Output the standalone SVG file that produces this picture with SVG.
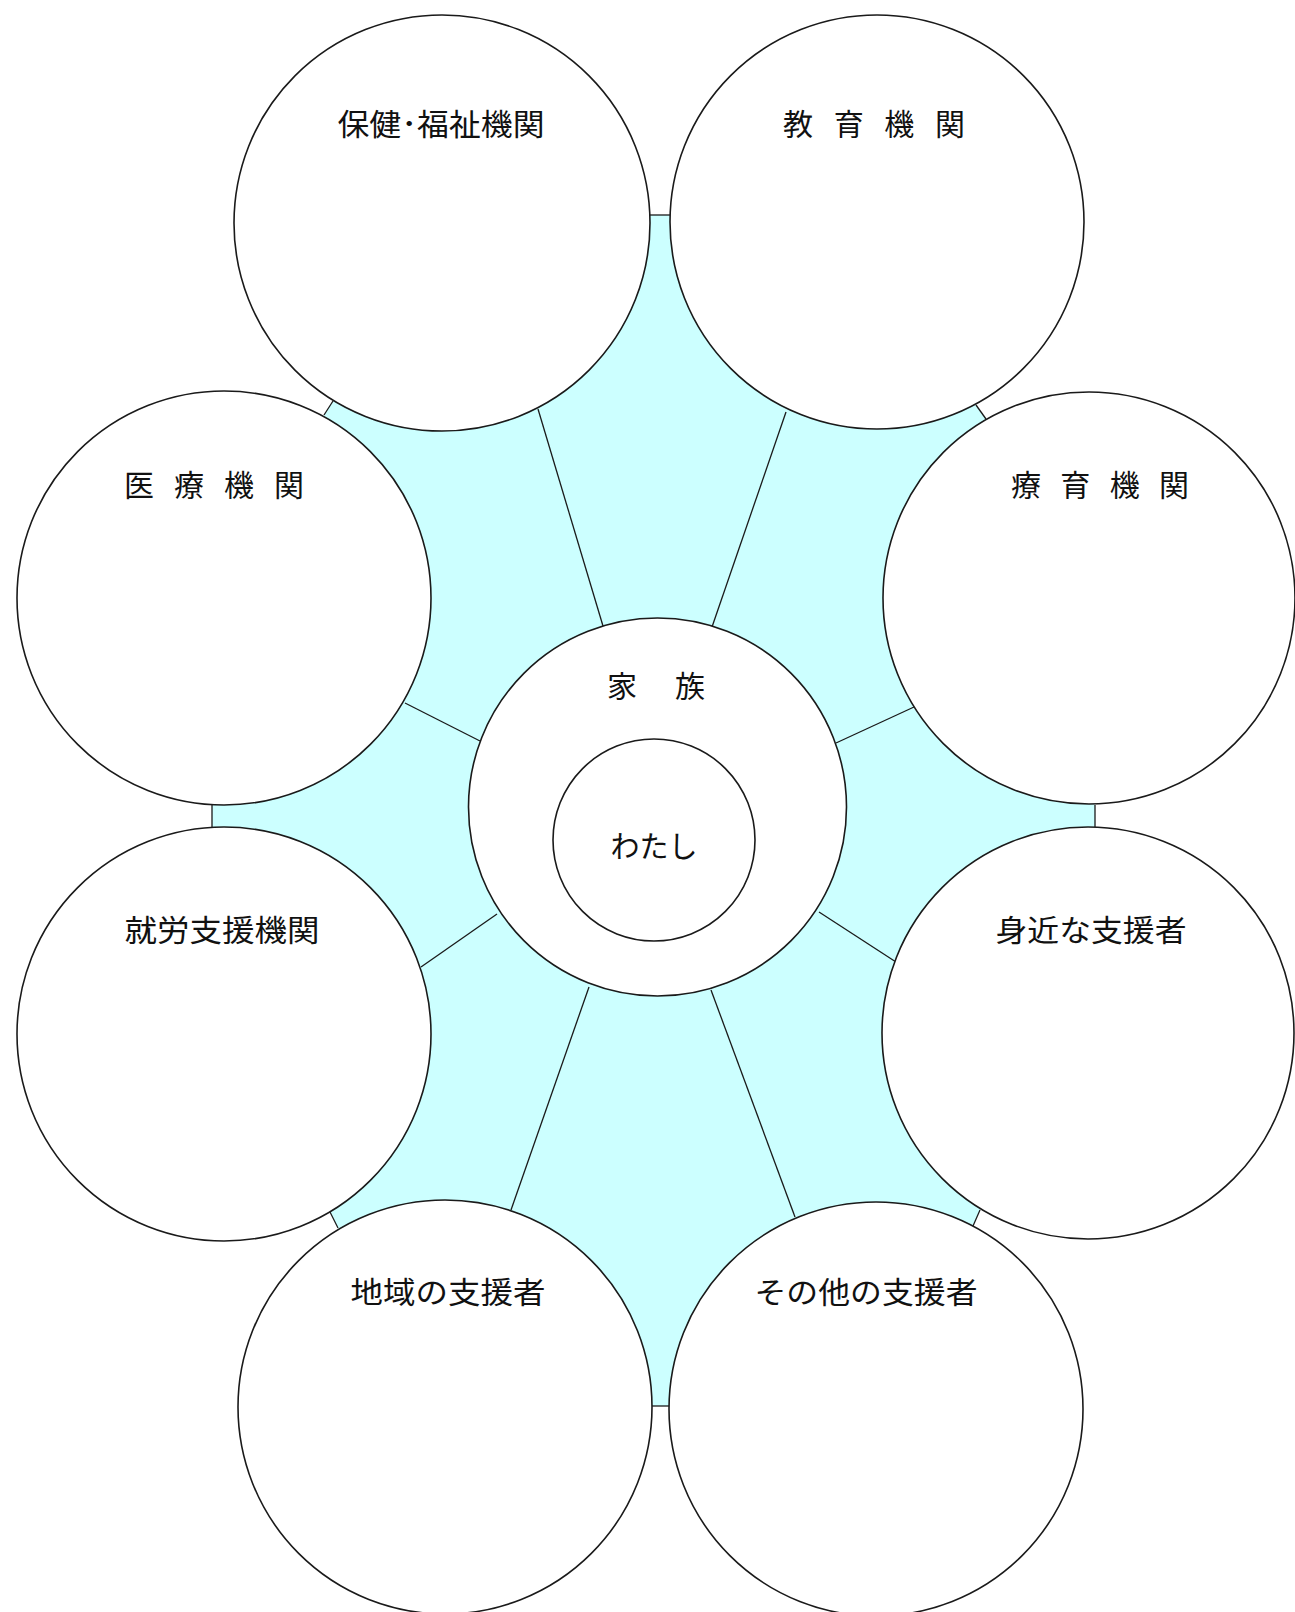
<svg xmlns="http://www.w3.org/2000/svg" width="1295" height="1612" viewBox="0 0 1295 1612">
<style>
.bg{fill:#ffffff}
.band{fill:#ccffff;stroke:none}
.node{fill:#ffffff;stroke:#1a1a1a;stroke-width:1.6}
.link{stroke:#1a1a1a;stroke-width:1.3;fill:none}
.lbl{font-family:"Noto Sans CJK JP","Noto Sans CJK SC",sans-serif;font-size:30px;fill:#111;text-anchor:middle}
</style>
<rect class="bg" x="0" y="0" width="1295" height="1612"/>
<polygon class="band" points="650,215 670,215 976,405 986,419 1095,805 1095,827 980,1210 973,1226 670,1406 652,1406 338,1228 330,1212 212,827 212,805 324,415 333,401"/>
<g id="connectors">
<line class="link" x1="650" y1="215" x2="670" y2="215"/>
<line class="link" x1="976" y1="405" x2="986" y2="419"/>
<line class="link" x1="1095" y1="805" x2="1095" y2="827"/>
<line class="link" x1="980" y1="1210" x2="973" y2="1226"/>
<line class="link" x1="670" y1="1406" x2="652" y2="1406"/>
<line class="link" x1="338" y1="1228" x2="330" y2="1212"/>
<line class="link" x1="212" y1="827" x2="212" y2="805"/>
<line class="link" x1="324" y1="415" x2="333" y2="401"/>
<line class="link" x1="603" y1="626" x2="538" y2="409"/>
<line class="link" x1="712" y1="627" x2="786" y2="412"/>
<line class="link" x1="836" y1="743" x2="914" y2="707"/>
<line class="link" x1="480" y1="741" x2="405" y2="703"/>
<line class="link" x1="497" y1="914" x2="421" y2="967"/>
<line class="link" x1="819" y1="912" x2="896" y2="962"/>
<line class="link" x1="589" y1="987" x2="511" y2="1210"/>
<line class="link" x1="711" y1="990" x2="795" y2="1217"/>
</g>
<g id="hoken">
<circle class="node" cx="442" cy="223" r="208"/>
<text class="lbl" x="441" y="135" textLength="207" lengthAdjust="spacingAndGlyphs">保健･福祉機関</text>
</g>
<g id="kyoiku">
<circle class="node" cx="877" cy="222" r="207"/>
<text class="lbl" x="874" y="135" textLength="182" lengthAdjust="spacing">教 育 機 関</text>
</g>
<g id="iryo">
<circle class="node" cx="224" cy="598" r="207"/>
<text class="lbl" x="214" y="496" textLength="180" lengthAdjust="spacing">医 療 機 関</text>
</g>
<g id="ryoiku">
<circle class="node" cx="1089" cy="598" r="206"/>
<text class="lbl" x="1100" y="496" textLength="178" lengthAdjust="spacing">療 育 機 関</text>
</g>
<g id="shuro">
<circle class="node" cx="224" cy="1034" r="207"/>
<text class="lbl" x="222" y="941" textLength="195" lengthAdjust="spacingAndGlyphs">就労支援機関</text>
</g>
<g id="mijika">
<circle class="node" cx="1088" cy="1033" r="206"/>
<text class="lbl" x="1091" y="941" textLength="191" lengthAdjust="spacingAndGlyphs">身近な支援者</text>
</g>
<g id="chiiki">
<circle class="node" cx="445" cy="1407" r="207"/>
<text class="lbl" x="448" y="1303" textLength="195" lengthAdjust="spacingAndGlyphs">地域の支援者</text>
</g>
<g id="sonota">
<circle class="node" cx="876" cy="1409" r="207"/>
<text class="lbl" x="866" y="1303" textLength="223" lengthAdjust="spacingAndGlyphs">その他の支援者</text>
</g>
<g id="kazoku">
<circle class="node" cx="657.5" cy="807" r="189"/>
<text class="lbl" x="656" y="697" textLength="98" lengthAdjust="spacing">家 族</text>
</g>
<g id="watashi">
<circle class="node" cx="654" cy="840" r="101"/>
<text class="lbl" x="654" y="857" textLength="87" lengthAdjust="spacingAndGlyphs">わたし</text>
</g>
</svg>
